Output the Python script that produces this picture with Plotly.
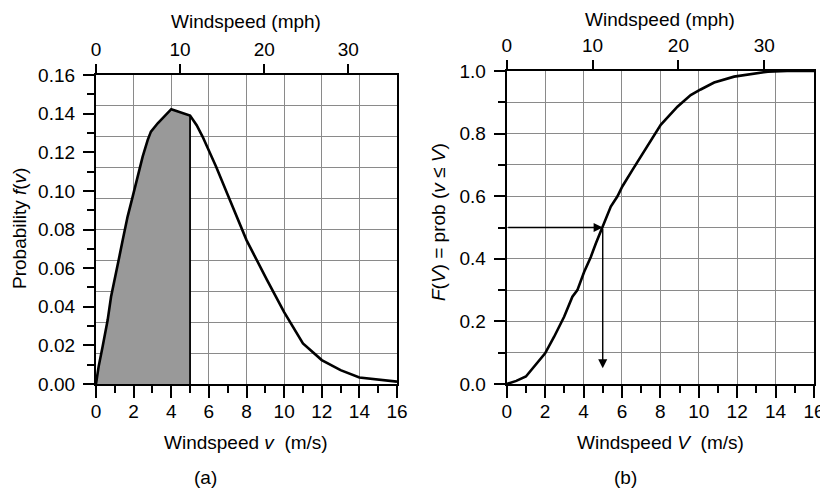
# Windspeed probability density (a) and cumulative distribution (b)
import plotly.graph_objects as go

# ---- data ----
# (a) probability density f(v), windspeed in m/s
v_pdf = [0.0, 0.05, 0.14, 0.35, 0.62, 0.80, 0.97, 1.24, 1.42, 1.68, 1.95, 2.21,
         2.48, 2.75, 2.92, 3.28, 3.63, 4.0, 5.0, 5.35, 5.67, 6.0, 6.38, 7.0,
         8.0, 9.08, 10.0, 11.0, 12.0, 13.0, 14.0, 16.0]
f_pdf = [0.0, 0.004, 0.009, 0.0193, 0.0331, 0.0452, 0.0539, 0.0659, 0.0746, 0.0867,
         0.097, 0.1074, 0.1177, 0.1264, 0.1307, 0.135, 0.1384, 0.1423, 0.139, 0.134,
         0.128, 0.121, 0.1126, 0.098, 0.0745, 0.054, 0.0372, 0.021, 0.0124, 0.0072,
         0.0034, 0.0012]
v_cutoff = 5.0

# (b) cumulative distribution F(V)
v_cdf = [0.0, 0.5, 1.0, 1.5, 2.0, 2.47, 2.99, 3.42, 3.68, 4.03, 4.38, 4.64, 4.98,
         5.42, 5.76, 6.02, 6.55, 6.98, 7.5, 8.02, 8.89, 9.58, 10.1, 10.8, 11.84,
         12.7, 13.6, 14.6, 16.0]
F_cdf = [0.0, 0.01, 0.024, 0.06, 0.098, 0.151, 0.215, 0.279, 0.30, 0.358, 0.406,
         0.449, 0.5, 0.567, 0.599, 0.631, 0.684, 0.727, 0.78, 0.828, 0.886, 0.923,
         0.941, 0.963, 0.982, 0.99, 0.998, 1.0, 1.0]
F_median = 0.5
arrow_end = 0.05

MPH_PER_MS = 2.23694
V_MAX = 16

FONT = 'Liberation Sans, Arial, sans-serif'
FS = 19
# the page body has an 8px margin, so the figure is drawn 8px in and shrunk to fit
OFF = 8
W, H = 828 - OFF, 493 - OFF
GRID = '#8a8a8a'


def px(x):
    return (x - OFF) / W


def py(y):
    return 1 - (y - OFF) / H


def bottom_axis(domain):
    return dict(domain=domain, range=[0, V_MAX], dtick=2, tick0=0,
                ticks='outside', ticklen=12, tickwidth=1.5, tickcolor='black',
                minor=dict(dtick=1, ticks='outside', ticklen=7, tickwidth=1.5,
                           tickcolor='black', showgrid=False),
                showline=True, linewidth=2.2, linecolor='black', mirror=True,
                showgrid=True, gridcolor=GRID, gridwidth=1.4, zeroline=False,
                ticklabelstandoff=-3,
                tickfont=dict(size=FS, color='black'), automargin=False)


def top_axis(over, anchor):
    return dict(overlaying=over, anchor=anchor, side='top',
                range=[0, V_MAX * MPH_PER_MS], dtick=10, tick0=0,
                ticks='outside', ticklen=10, tickwidth=1.5, tickcolor='black',
                showline=False, showgrid=False, zeroline=False,
                tickfont=dict(size=FS, color='black'), automargin=False)


def main():
    fig = go.Figure()

    # shaded area under f(v) up to the cutoff speed
    v_fill = [v for v in v_pdf if v <= v_cutoff]
    f_fill = f_pdf[:len(v_fill)]
    fig.add_trace(go.Scatter(x=v_fill, y=f_fill, fill='tozeroy', mode='none',
                             fillcolor='#999999', xaxis='x', yaxis='y',
                             hoverinfo='skip', showlegend=False))
    fig.add_trace(go.Scatter(x=[v_cutoff, v_cutoff], y=[0, f_fill[-1]], mode='lines',
                             line=dict(color='black', width=1.8),
                             xaxis='x', yaxis='y', showlegend=False))
    fig.add_trace(go.Scatter(x=v_pdf, y=f_pdf, mode='lines',
                             line=dict(color='black', width=2.6),
                             xaxis='x', yaxis='y', showlegend=False))

    # invisible copies so the mph axes and the left grid axis get drawn
    mph_pdf = [v * MPH_PER_MS for v in v_pdf]
    mph_cdf = [v * MPH_PER_MS for v in v_cdf]
    for xs, ys, xa, ya in [(mph_pdf, f_pdf, 'x3', 'y'), (v_pdf, f_pdf, 'x', 'y3'),
                           (mph_cdf, F_cdf, 'x4', 'y2')]:
        fig.add_trace(go.Scatter(x=xs, y=ys, mode='lines', opacity=0,
                                 line=dict(width=0), xaxis=xa, yaxis=ya,
                                 hoverinfo='skip', showlegend=False))

    # cumulative curve
    fig.add_trace(go.Scatter(x=v_cdf, y=F_cdf, mode='lines',
                             line=dict(color='black', width=2.6),
                             xaxis='x2', yaxis='y2', showlegend=False))

    # arrows: read V at F = 0.5
    fig.add_annotation(x=v_cutoff, y=F_median, ax=0, ay=F_median,
                       xref='x2', yref='y2', axref='x2', ayref='y2',
                       showarrow=True, arrowhead=2, arrowsize=1.3, arrowwidth=1.4,
                       arrowcolor='black', text='')
    fig.add_annotation(x=v_cutoff, y=arrow_end, ax=v_cutoff, ay=F_median,
                       xref='x2', yref='y2', axref='x2', ayref='y2',
                       showarrow=True, arrowhead=2, arrowsize=1.3, arrowwidth=1.4,
                       arrowcolor='black', text='')

    left_dom = [px(96), px(397)]
    right_dom = [px(506.7), px(814)]

    fig.update_layout(
        width=W, height=H,
        margin=dict(l=0, r=0, t=0, b=0, pad=0, autoexpand=False),
        paper_bgcolor='white', plot_bgcolor='white',
        font=dict(family=FONT, size=FS, color='black'),
        xaxis=dict(bottom_axis(left_dom), anchor='y'),
        xaxis2=dict(bottom_axis(right_dom), anchor='y2'),
        xaxis3=top_axis('x', 'y'),
        xaxis4=top_axis('x2', 'y2'),
        yaxis=dict(domain=[py(384), py(75)], anchor='x', range=[0, 0.16],
                   dtick=0.02, tick0=0, tickformat='.2f',
                   ticks='outside', ticklen=11, tickwidth=1.5, tickcolor='black',
                   minor=dict(dtick=0.01, ticks='outside', ticklen=7, tickwidth=1.5,
                              tickcolor='black', showgrid=False),
                   showline=True, linewidth=2.2, linecolor='black', mirror=True,
                   showgrid=False, zeroline=False, automargin=False,
                   ticklabelstandoff=4,
                   tickfont=dict(size=FS, color='black')),
        # grid of the left panel: 10 equal divisions, independent of the labels
        yaxis3=dict(overlaying='y', anchor='x', range=[0, 0.16], dtick=0.016,
                    tick0=0, showticklabels=False, ticks='', showline=False,
                    showgrid=True, gridcolor=GRID, gridwidth=1.4, zeroline=False,
                    automargin=False),
        yaxis2=dict(domain=[py(384), py(71)], anchor='x2', range=[0, 1],
                    dtick=0.2, tick0=0, tickformat='.1f',
                    ticks='outside', ticklen=11, tickwidth=1.5, tickcolor='black',
                    minor=dict(dtick=0.1, ticks='outside', ticklen=7, tickwidth=1.5,
                               tickcolor='black', showgrid=True, gridcolor=GRID,
                               gridwidth=1.4),
                    showline=True, linewidth=2.2, linecolor='black', mirror=True,
                    showgrid=True, gridcolor=GRID, gridwidth=1.4, zeroline=False,
                    automargin=False, ticklabelstandoff=4,
                    tickfont=dict(size=FS, color='black')),
    )

    # titles as annotations in pixel positions
    labels = [
        ('Windspeed (mph)', 246.5, 21, 0),
        ('Windspeed (mph)', 660, 19, 0),
        ('Windspeed <i>v</i>  (m/s)', 246.5, 442, 0),
        ('Windspeed <i>V</i>  (m/s)', 660, 442, 0),
        ('(a)', 205, 477, 0),
        ('(b)', 625, 477, 0),
        ('Probability <i>f</i>(<i>v</i>)', 20, 229, -90),
        ('<i>F</i>(<i>V</i>) = prob (<i>v</i> ≤ <i>V</i>)', 438, 222, -90),
    ]
    for text, x, y, ang in labels:
        fig.add_annotation(text=text, x=px(x), y=py(y), xref='paper', yref='paper',
                           xanchor='center', yanchor='middle', showarrow=False,
                           textangle=ang, font=dict(size=FS, color='black'))

    fig.write_html('out.html')


if __name__ == '__main__':
    main()
